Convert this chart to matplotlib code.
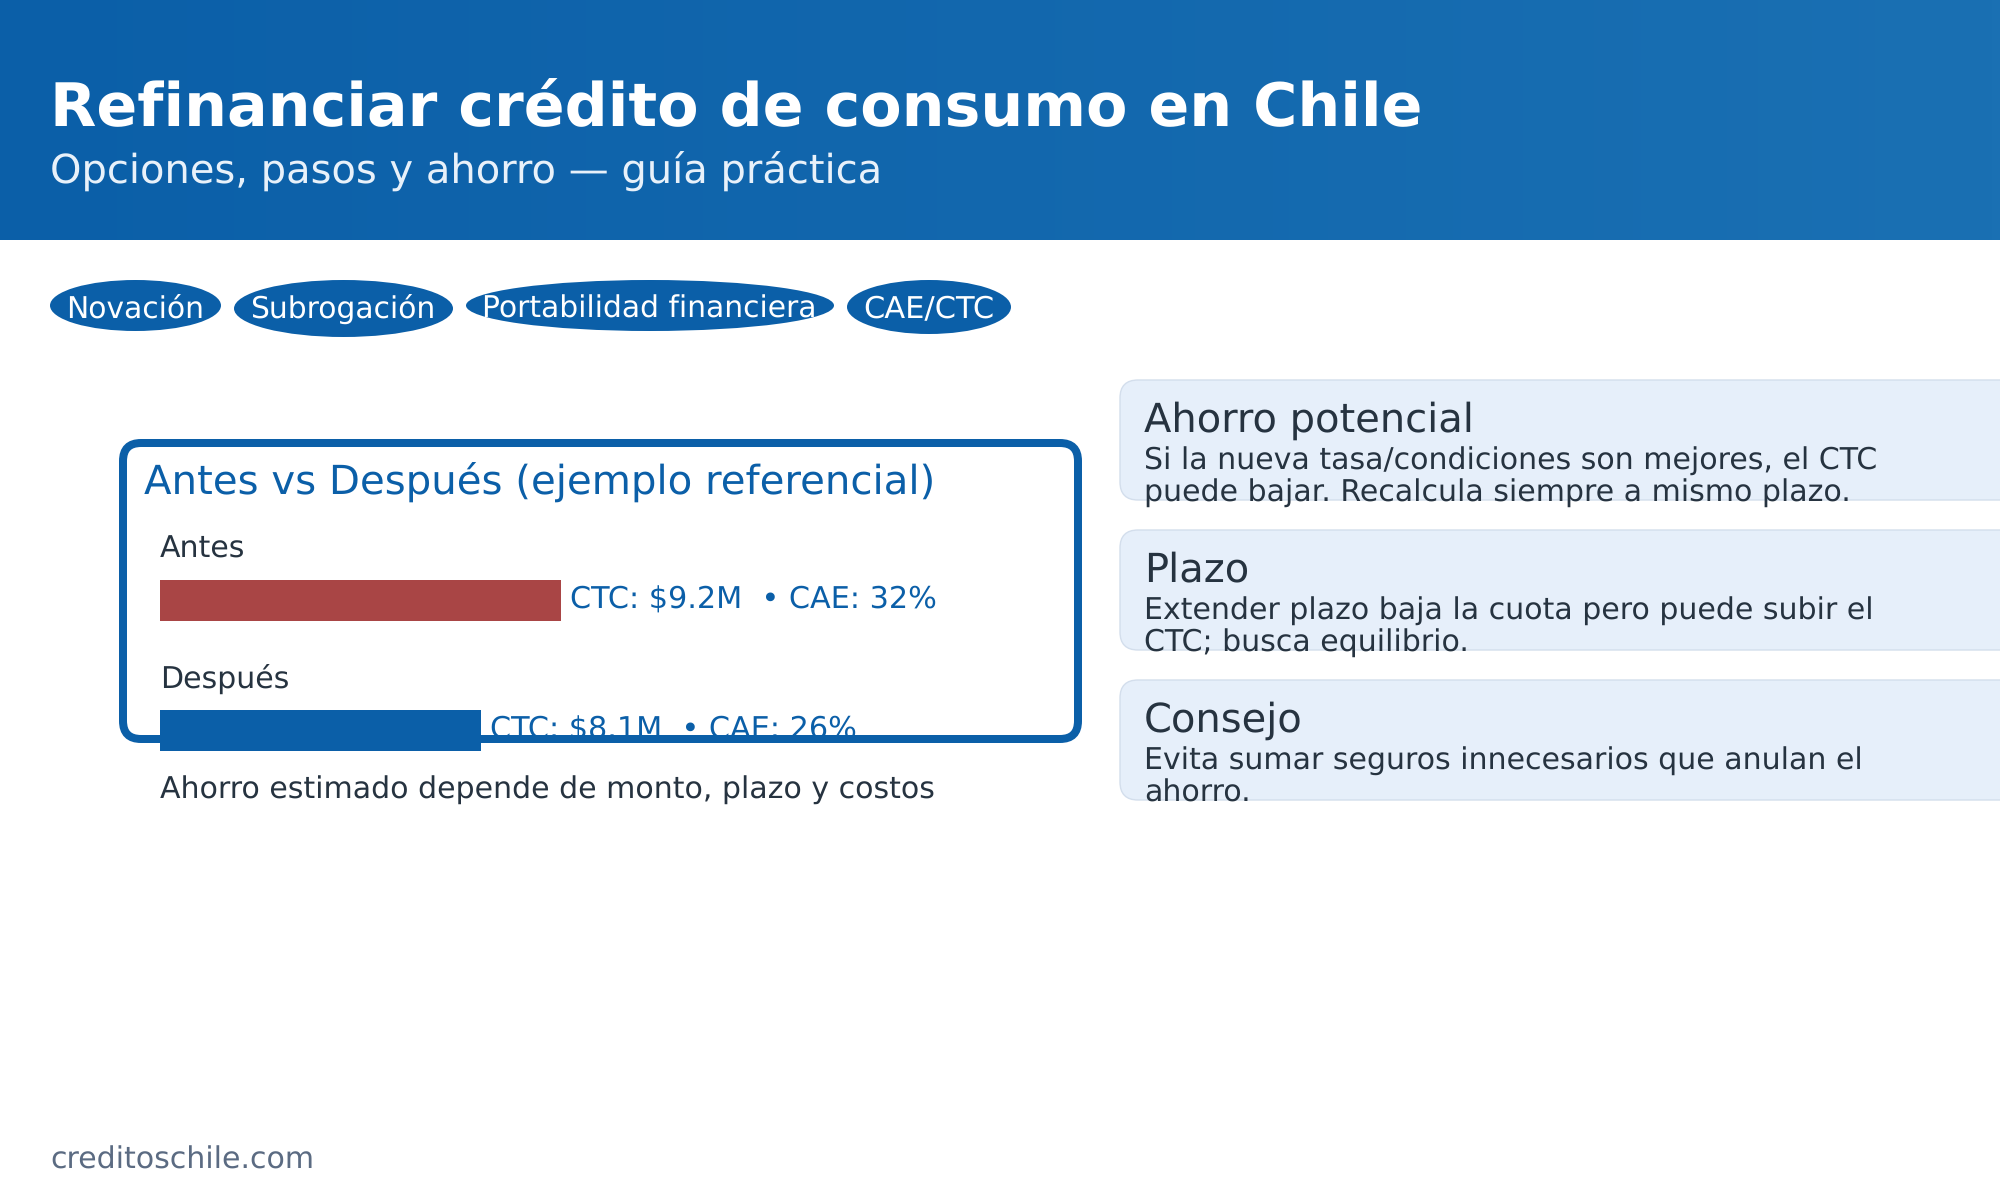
# -*- coding: utf-8 -*-
import numpy as np
import matplotlib
matplotlib.use("Agg")
import matplotlib.pyplot as plt
from matplotlib.patches import Ellipse, FancyBboxPatch

# Data
title = "Refinanciar crédito de consumo en Chile"
subtitle = "Opciones, pasos y ahorro — guía práctica"
chips = ["Novación", "Subrogación", "Portabilidad financiera", "CAE/CTC"]
box_title = "Antes vs Después (ejemplo referencial)"
bar_names = ["Antes", "Después"]
bar_lengths = [401, 321]
ctc = ["$9.2M", "$8.1M"]
cae = ["32%", "26%"]
note = "Ahorro estimado depende de monto, plazo y costos"
card_titles = ["Ahorro potencial", "Plazo", "Consejo"]
card_lines = [
    ["Si la nueva tasa/condiciones son mejores, el CTC", "puede bajar. Recalcula siempre a mismo plazo."],
    ["Extender plazo baja la cuota pero puede subir el", "CTC; busca equilibrio."],
    ["Evita sumar seguros innecesarios que anulan el", "ahorro."],
]
footer = "creditoschile.com"

BLUE = "#0B5FA8"
RED = "#A94545"
DARK = "#263340"

plt.rcParams["text.hinting"] = "no_hinting"


def px(size):
    # font size in pixels to points at dpi 100
    return size * 0.72


fig = plt.figure(figsize=(20, 12), dpi=100)
ax = fig.add_axes([0, 0, 1, 1])

# header with gradient
grad = np.linspace(0, 1, 256).reshape(1, -1)
cmap = matplotlib.colors.LinearSegmentedColormap.from_list("head", [BLUE, "#1A70B3"])
ax.imshow(grad, extent=[0, 2000, 240, 0], cmap=cmap, aspect="auto", zorder=0)
ax.set_xlim(0, 2000)
ax.set_ylim(1200, 0)
ax.axis("off")

ax.text(50, 126, title, color="white", fontsize=px(60.3), fontweight="bold", zorder=3)
ax.text(50, 183, subtitle, color="#E8F1FA", fontsize=px(40), zorder=3)

# chips
chip_x = [50, 234, 466, 847]
chip_w = [171, 219, 368, 164]
chip_h = [51, 57, 51, 54]
chip_font = [29.7, 29.8, 29.8, 30.5]
for name, x, w, h, fs in zip(chips, chip_x, chip_w, chip_h, chip_font):
    ax.add_patch(Ellipse((x + w / 2, 280 + h / 2), w, h, color=BLUE, lw=0, zorder=2))
    ax.text(x + 16, 318, name, color="white", fontsize=px(fs), zorder=3)

# boxed before/after panel
ax.add_patch(FancyBboxPatch((123, 443), 955, 296, boxstyle="round,pad=0,rounding_size=18",
                            fc="white", ec=BLUE, lw=px(8), zorder=2))
ax.text(144, 494, box_title, color=BLUE, fontsize=px(40.2), zorder=3)

name_y = [558, 688]
bar_y = [600.5, 730.5]
label_y = [609, 739]
bar_colors = [RED, BLUE]
ax.barh(bar_y, bar_lengths, left=160, height=41, color=bar_colors, zorder=4)
for i in range(len(bar_names)):
    ax.text(160, name_y[i], bar_names[i], color=DARK, fontsize=px(30), zorder=3)
    ax.text(160 + bar_lengths[i] + 9, label_y[i], "CTC: " + ctc[i] + "  • CAE: " + cae[i],
            color=BLUE, fontsize=px(30.3), zorder=3, parse_math=False)
ax.text(160, 799, note, color=DARK, fontsize=px(30), zorder=3)

# cards on the right
card_y = [380, 530, 680]
for i in range(len(card_titles)):
    y = card_y[i]
    ax.add_patch(FancyBboxPatch((1120, y), 1000, 120, boxstyle="round,pad=0,rounding_size=18",
                                fc="#E6EFFA", ec="#D3DEEC", lw=1, zorder=2))
    ax.text(1144, y + 51.5, card_titles[i], color=DARK, fontsize=px(40), zorder=3)
    ax.text(1144, y + 90, card_lines[i][0], color=DARK, fontsize=px(30), zorder=3)
    ax.text(1144, y + 122, card_lines[i][1], color=DARK, fontsize=px(30), zorder=3)

ax.text(50, 1169, footer, color="#5B6B82", fontsize=px(30), zorder=3)

fig.savefig("out.png", dpi=100)
